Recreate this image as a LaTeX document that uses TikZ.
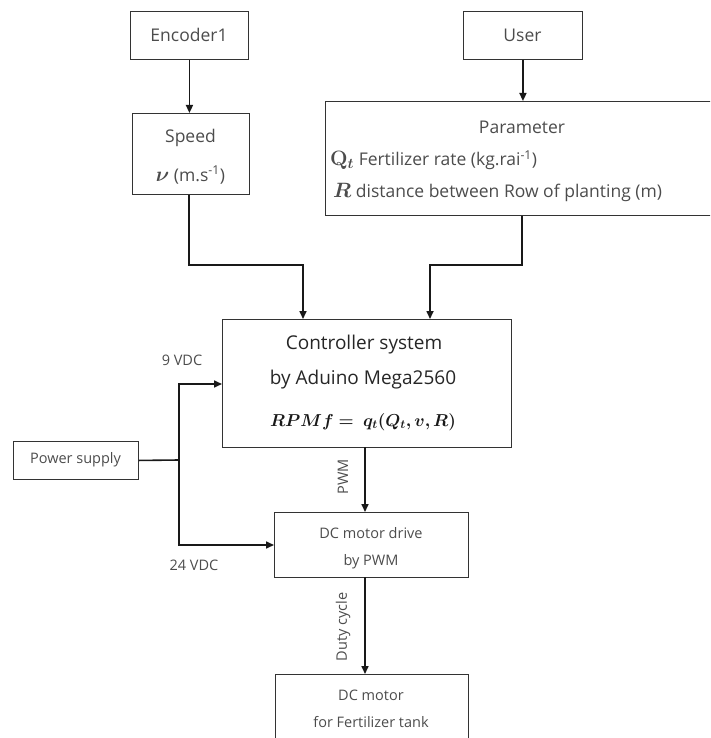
\documentclass[tikz,border=0pt]{standalone}
\usepackage[no-math]{fontspec}
\setmainfont{Open Sans}
\usepackage{amsmath,bm}
\usetikzlibrary{arrows.meta}
\newcommand{\bigsym}[1]{{\fontsize{22}{22}\selectfont #1}}
\begin{document}
\begin{tikzpicture}[x=1pt,y=-1pt,
  box/.style={draw=black!80, line width=0.9pt, inner sep=0pt, anchor=north west},
  txt/.style={inner sep=0pt, text=black!70, font=\fontsize{17.5}{20}\selectfont},
  bigtxt/.style={inner sep=0pt, text=black!85, font=\fontsize{19}{22}\selectfont},
  mathtxt/.style={inner sep=0pt, text=black!90, font=\fontsize{17}{20}\selectfont},
  smalltxt/.style={inner sep=0pt, text=black!70, font=\fontsize{14.5}{17}\selectfont},
  conn/.style={line width=1.6pt, draw=black!90},
  arr/.style={conn, -{Triangle[length=8pt,width=7pt]}}]
\useasboundingbox (0,0) rectangle (710,738);
\clip (0,0) rectangle (710,738);

% boxes
\node[box, minimum width=118pt, minimum height=48pt] (enc) at (130,11) {};
\node[txt] (enct) at (189,35) {Encoder1};
\node[box, minimum width=119pt, minimum height=48pt] (user) at (463,11) {};
\node[txt] (usert) at (522.5,35) {User};
\node[box, minimum width=117pt, minimum height=81pt] (speed) at (132,113) {};
\node[txt] (speedt1) at (190.5,138) {Speed};
\node[txt] (speedt2) at (190.5,175) {\bigsym{$\bm{\nu}$} (m.s\textsuperscript{-1})};
\node[box, minimum width=390pt, minimum height=114pt] (param) at (325,101) {};
\node[txt] (part1) at (522,127) {Parameter};
\node[txt, anchor=west] (part2) at (330,160) {\bigsym{$\mathbf{Q}_{\bm{t}}$} Fertilizer rate (kg.rai\textsuperscript{-1})};
\node[txt, anchor=west] (part3) at (333,192) {\bigsym{$\bm{R}$} distance between Row of planting (m)};
\node[box, minimum width=289pt, minimum height=128pt] (ctrl) at (222,319) {};
\node[bigtxt] (ctrlt1) at (364,345) {Controller system};
\node[bigtxt] (ctrlt2) at (363,380) {by Aduino Mega2560};
\node[mathtxt] (ctrlt3) at (363,422) {$\bm{RPMf =\ q_t(Q_t, v, R)}$};
\node[box, minimum width=125pt, minimum height=38pt] (power) at (13,441) {};
\node[smalltxt] (powert) at (75.5,460) {Power supply};
\node[box, minimum width=194pt, minimum height=65pt] (drive) at (274,512) {};
\node[smalltxt] (drivet1) at (371,533) {DC motor drive};
\node[smalltxt] (drivet2) at (371,562) {by PWM};
\node[box, minimum width=193pt, minimum height=90pt] (motor) at (275,674) {};
\node[smalltxt] (motort1) at (371,695) {DC motor};
\node[smalltxt] (motort2) at (371,722) {for Fertilizer tank};

% labels
\node[smalltxt] (v9) at (182,360) {9 VDC};
\node[smalltxt] (v24) at (194,565) {24 VDC};
\node[smalltxt, rotate=90] (pwm) at (343,477) {PWM};
\node[smalltxt, rotate=90] (duty) at (343,627) {Duty cycle};

% coordinates
\coordinate (sbend) at (189,265);
\coordinate (pbend) at (522,265);
\coordinate (j) at (179,460);
\coordinate (jtop) at (179,384);
\coordinate (jbot) at (179,545);

% connectors
\draw[arr] (enc.south) -- (enc.south |- speed.north);
\draw[arr] (user.south) -- (user.south |- param.north);
\draw[arr] (speed.south -| sbend) -- (sbend) -- (303,265) -- (303,319);
\draw[arr] (param.south -| pbend) -- (pbend) -- (430,265) -- (430,319);
\draw[conn] (power.east) -- (j);
\draw[arr] (jbot) -- (jtop) -- (ctrl.west |- jtop);
\draw[arr] (j) -- (jbot) -- (drive.west |- jbot);
\draw[arr] (365,447) -- (365,512);
\draw[arr] (365,577) -- (365,674);
\end{tikzpicture}
\end{document}
